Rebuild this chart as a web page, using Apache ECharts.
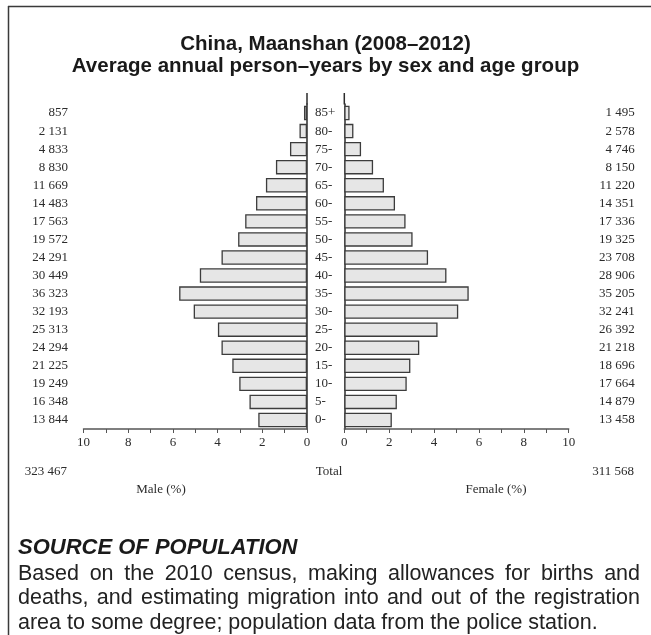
<!DOCTYPE html>
<html>
<head>
<meta charset="utf-8">
<script src="https://cdn.jsdelivr.net/npm/echarts@6/dist/echarts.min.js"></script>
<style>
html,body{margin:0;padding:0;background:#fff;}
#chart{width:651px;height:635px;}
</style>
</head>
<body>
<div id="chart"></div>
<script>
// ---- data (ordered youngest to oldest; first category drawn at bottom) ----
var ageGroups = ['0-','5-','10-','15-','20-','25-','30-','35-','40-','45-','50-','55-','60-','65-','70-','75-','80-','85+'];
var maleCounts = [13844,16348,19249,21225,24294,25313,32193,36323,30449,24291,19572,17563,14483,11669,8830,4833,2131,857];
var femaleCounts = [13458,14879,17664,18696,21218,26392,32241,35205,28906,23708,19325,17336,14351,11220,8150,4746,2578,1495];
// share of total population (%), as drawn by the bars
var malePct = [2.180,2.574,3.031,3.342,3.826,3.986,5.070,5.720,4.795,3.825,3.082,2.766,2.281,1.838,1.390,0.761,0.336,0.135];
var femalePct = [2.119,2.343,2.782,2.944,3.341,4.156,5.077,5.544,4.552,3.733,3.043,2.730,2.260,1.767,1.283,0.747,0.406,0.235];
var maleTotal = 323467;
var femaleTotal = 311568;
var axisTicks = [0,2,4,6,8,10];
var titleLines = ['China, Maanshan (2008\u20132012)', 'Average annual person\u2013years by sex and age group'];
var sourceHeading = 'SOURCE OF POPULATION';
var sourceLines = [
  'Based on the 2010 census, making allowances for births and',
  'deaths, and estimating migration into and out of the registration',
  'area to some degree; population data from the police station.'
];
var labelTotal = 'Total', labelMale = 'Male (%)', labelFemale = 'Female (%)';

function fmt(n){ return String(n).replace(/\B(?=(\d{3})+(?!\d))/g, ' '); }

var serif = '"Liberation Serif","Times New Roman",serif';
var sans = '"Liberation Sans",Arial,Helvetica,sans-serif';
var dark = '#2b2b2b';

var chart = echarts.init(document.getElementById('chart'), null, {renderer:'canvas'});

function txt(t, x, y, font, align, color){
  return {type:'text', silent:true, x:x, y:y,
    style:{text:t, x:0, y:0, font:font, fill:color||dark,
      textAlign:align||'left', align:align||'left', textVerticalAlign:'middle', verticalAlign:'middle'}};
}

// justified paragraph lines
var measureCtx = document.createElement('canvas').getContext('2d');
var bodyFont = '21.5px ' + sans;
measureCtx.font = bodyFont;
var graphics = [];
var bodyLeft = 18, bodyRight = 640;
var bodyY = [574, 598.5, 623];
sourceLines.forEach(function(line, i){
  if (i === sourceLines.length - 1) {
    graphics.push(txt(line, bodyLeft, bodyY[i], bodyFont, 'left', '#222'));
    return;
  }
  var words = line.split(' ');
  var widths = words.map(function(w){ return measureCtx.measureText(w).width; });
  var total = widths.reduce(function(a,b){return a+b;},0);
  var gap = (bodyRight - bodyLeft - total) / (words.length - 1);
  var x = bodyLeft;
  words.forEach(function(w, k){
    graphics.push(txt(w, x, bodyY[i], bodyFont, 'left', '#222'));
    x += widths[k] + gap;
  });
});

graphics.push(
  // frame
  {type:'line', silent:true, shape:{x1:8.5, y1:6, x2:8.5, y2:635}, style:{stroke:'#3a3a3a', lineWidth:1.5}},
  {type:'line', silent:true, shape:{x1:8, y1:6.5, x2:651, y2:6.5}, style:{stroke:'#3a3a3a', lineWidth:1.5}},
  // title
  txt(titleLines[0], 325.5, 44, 'bold 20.5px ' + sans, 'center', '#1a1a1a'),
  txt(titleLines[1], 325.5, 66, 'bold 20.5px ' + sans, 'center', '#1a1a1a'),
  // upward extension of the centre axis lines
  {type:'line', silent:true, shape:{x1:307, y1:93, x2:307, y2:104.5}, style:{stroke:dark, lineWidth:1.5}},
  {type:'line', silent:true, shape:{x1:344.3, y1:93, x2:344.3, y2:104.5}, style:{stroke:dark, lineWidth:1.5}},
  // totals and axis names
  txt(fmt(maleTotal), 67, 472, '13px ' + serif, 'right'),
  txt(labelTotal, 329, 472, '13px ' + serif, 'center'),
  txt(fmt(femaleTotal), 634, 472, '13px ' + serif, 'right'),
  txt(labelMale, 161, 490, '13px ' + serif, 'center'),
  txt(labelFemale, 496, 490, '13px ' + serif, 'center'),
  txt(sourceHeading, 18, 548, 'italic bold 22px ' + sans, 'left', '#1a1a1a')
);

var xAxisCommon = function(grid, inverse){
  return {
    type:'value', gridIndex:grid, min:0, max:10, interval:2, inverse:inverse,
    axisLine:{show:true, onZero:false, lineStyle:{color:'#555', width:1.5}},
    axisTick:{show:true, length:4, lineStyle:{color:'#555', width:1}},
    minorTick:{show:true, splitNumber:2, length:4, lineStyle:{color:'#555', width:1}},
    splitLine:{show:false}, minorSplitLine:{show:false},
    axisLabel:{margin:7, fontFamily:serif, fontSize:13, color:dark,
      customValues: axisTicks, formatter:function(v){return String(v);} }
  };
};

var option = {
  animation:false,
  backgroundColor:'#fff',
  grid:[
    {left:83.5, right:344, top:104, height:325, containLabel:false},
    {left:344.3, right:82.3, top:104, height:325, containLabel:false}
  ],
  xAxis:[ xAxisCommon(0, true), xAxisCommon(1, false) ],
  yAxis:[
    {type:'category', gridIndex:0, data:ageGroups, position:'right',
      axisLine:{show:true, lineStyle:{color:dark, width:1.5}}, axisTick:{show:false}, axisLabel:{show:false}},
    {type:'category', gridIndex:0, data:ageGroups, position:'left',
      axisLine:{show:false}, axisTick:{show:false},
      axisLabel:{show:true, margin:15.5, align:'right', fontFamily:serif, fontSize:13, color:dark,
        formatter:function(v, i){ return fmt(maleCounts[i]); }}},
    {type:'category', gridIndex:1, data:ageGroups, position:'left',
      axisLine:{show:true, lineStyle:{color:dark, width:1.5}}, axisTick:{show:false},
      axisLabel:{show:true, margin:29.3, align:'left', fontFamily:serif, fontSize:13, color:dark}},
    {type:'category', gridIndex:1, data:ageGroups, position:'right',
      axisLine:{show:false}, axisTick:{show:false},
      axisLabel:{show:true, margin:66, align:'right', fontFamily:serif, fontSize:13, color:dark,
        formatter:function(v, i){ return fmt(femaleCounts[i]); }}}
  ],
  series:[
    {type:'bar', name:'Male', xAxisIndex:0, yAxisIndex:0, data:malePct, barCategoryGap:'20%',
      itemStyle:{color:'#e6e6e6', borderColor:'#3c3c3c', borderWidth:1.3}},
    {type:'bar', name:'Female', xAxisIndex:1, yAxisIndex:2, data:femalePct, barCategoryGap:'20%',
      itemStyle:{color:'#e6e6e6', borderColor:'#3c3c3c', borderWidth:1.3}}
  ],
  graphic: graphics
};
chart.setOption(option);
</script>
</body>
</html>
